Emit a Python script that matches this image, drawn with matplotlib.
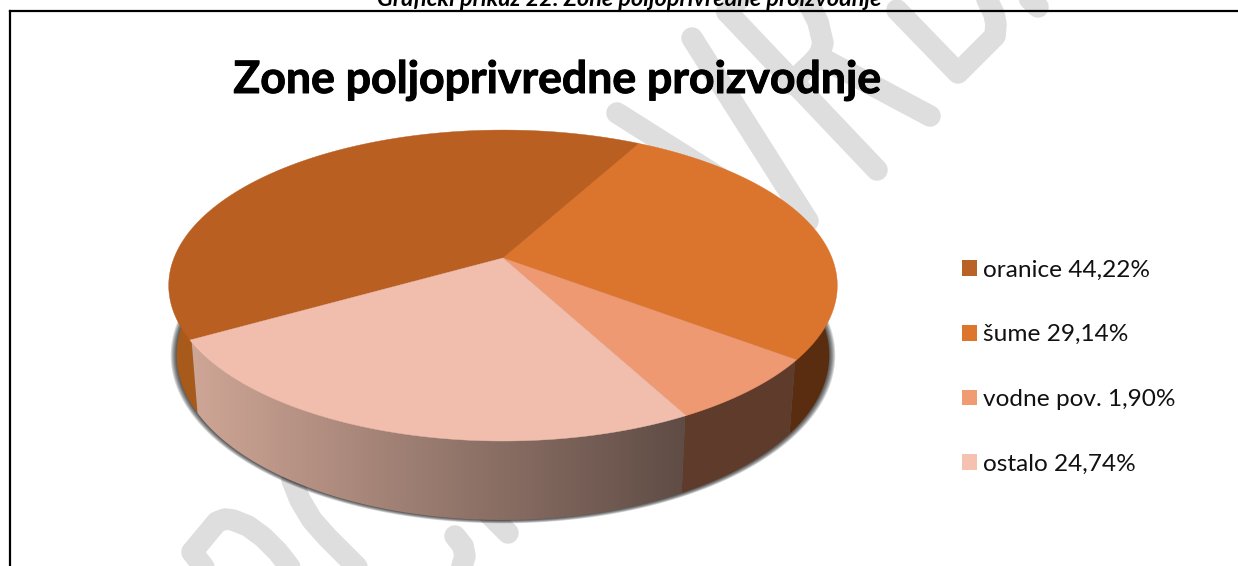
import numpy as np
import matplotlib
matplotlib.use('Agg')
import matplotlib.pyplot as plt
from matplotlib.patches import Patch, Polygon
import matplotlib.patheffects as pe

##################### data #############################
title = 'Zone poljoprivredne proizvodnje'
caption = 'Grafički prikaz 22: Zone poljoprivredne proizvodnje'
labels = ['oranice 44,22%', 'šume 29,14%', 'vodne pov. 1,90%', 'ostalo 24,74%']
# shares as drawn in the picture (the slices do not follow the printed labels)
shares = [41.2, 27.4, 6.9, 24.5]
top_colors = ['#B85F21', '#DB742D', '#EE9971', '#F1BEAE']
legend_colors = ['#BA6125', '#DE752D', '#F19B72', '#F5C2B2']
side_colors = ['#A85A1B', '#5A2D10', '#5F3B2C', None]

# watermark strokes, pixels
strokes = [
    [(692, 38), (808, 221)],
    [(617, 113), (720, 178)],
    [(727, 12), (877, 170)],
    [(727, 12), (752, -14), (795, -12), (808, 2), (818, 22), (823, 43), (820, 54), (813, 62), (790, 84)],
    [(827, 61), (930, 116)],
    [(897, 10), (958, 73), (995, 36), (996, 24), (994, 14), (985, -5)],
    [(1018, -12), (1038, 7)],
    [(210, 575), (192, 552), (217, 522), (225, 519), (233, 520), (248, 526), (263, 537), (278, 552), (292, 570)],
    [(292, 480), (300, 500), (312, 520), (327, 537), (362, 572)],
    [(455, 536), (463, 546), (465, 556), (458, 580)],
    [(480, 505), (508, 533)],
]

cx, cy = 503, 258
A, a, k = 329, 150.6, 0.177
start = 240.2


def top_pt(th):
    # th clockwise from north, degrees
    t = np.radians(th)
    u, v = np.sin(t), np.cos(t)
    w = 1 / (1 + k * v)
    return A * u * w, a * v * w


def bot_pt(th):
    dx, dy = top_pt(th)
    return 0.976 * dx, 1.06 * dy - 68


def px(dx, dy):
    return cx + dx, cy - dy


fig = plt.figure(figsize=(12.38, 5.66), dpi=100)
ax = fig.add_axes([0, 0, 1, 1])
ax.set_xlim(0, 1238)
ax.set_ylim(566, 0)
ax.axis('off')

for s in strokes:
    xs, ys = zip(*s)
    ax.plot(xs, ys, color='#DEDEDE', lw=15.5, solid_capstyle='round',
            solid_joinstyle='round', zorder=1)

# frame, only top and left are in the crop
ax.plot([10.3, 10.3], [566, 11], color='black', lw=1.6, zorder=5, solid_capstyle='projecting')
ax.plot([10.3, 1238], [11, 11], color='black', lw=1.6, zorder=5)

# soft shadow under the disc
ths = np.linspace(0, 360, 361)
bx, by = bot_pt(ths)
bmx, bmy = bx.mean(), by.mean()
for e in np.arange(6, 0, -1):
    sx = bmx + (bx - bmx) * (1 + e / 326)
    sy = bmy + (by - bmy) * (1 + e * 0.5 / 160)
    xx, yy = px(sx, sy)
    ax.fill(xx, yy, color='black', alpha=0.15, lw=0, zorder=2)

edges = start + np.cumsum([0] + shares) * 3.6

# rim, top edge pulled in a bit so it does not peek out behind the face
for i in range(len(shares)):
    t = np.linspace(edges[i], edges[i + 1], 300)
    dx1, dy1 = top_pt(t)
    x1, y1 = px(dx1 * 0.995, dy1 * 0.995 - 0.7)
    x2, y2 = px(*bot_pt(t))
    xx = np.r_[x1, x2[::-1]]
    yy = np.r_[y1, y2[::-1]]
    if side_colors[i] is not None:
        ax.fill(xx, yy, color=side_colors[i], lw=0, zorder=3)
    else:
        # last slice has a left to right fade
        f = np.linspace(0, 1, 256)[None, :]
        grad = np.dstack([(207 - 112 * f) / 255, (166 - 90 * f) / 255, (150 - 81 * f) / 255])
        im = ax.imshow(grad, extent=(190, 686, 530, 330), aspect='auto', zorder=3)
        clip = Polygon(np.c_[xx, yy], closed=True, transform=ax.transData)
        im.set_clip_path(clip)
ax.set_xlim(0, 1238)
ax.set_ylim(566, 0)

# top face
for i in range(len(shares)):
    t = np.linspace(edges[i], edges[i + 1], 200)
    xx, yy = px(*top_pt(t))
    ax.fill(np.r_[cx, xx], np.r_[cy, yy], color=top_colors[i], lw=0.3, zorder=4)

ax.text(557.5, 93, title, family='Lato', weight='bold', fontsize=32.1, color='black',
        ha='center', va='baseline', zorder=6,
        path_effects=[pe.withStroke(linewidth=0.7, foreground='black')])
ax.text(629.5, 6.5, caption, family='Lato', weight='bold', style='italic', fontsize=16.8,
        color='black', ha='center', va='baseline', zorder=6)

handles = [Patch(color=c, lw=0) for c in legend_colors]
ax.legend(handles, labels, loc='upper left', bbox_to_anchor=(962, 259.5),
          bbox_transform=ax.transData, frameon=False, prop={'family': 'Lato', 'size': 17.6},
          handlelength=0.615, handleheight=0.615, handletextpad=0.24,
          labelspacing=1.79, borderpad=0, borderaxespad=0, labelcolor='#111111')

fig.savefig('out.png', dpi=100)
